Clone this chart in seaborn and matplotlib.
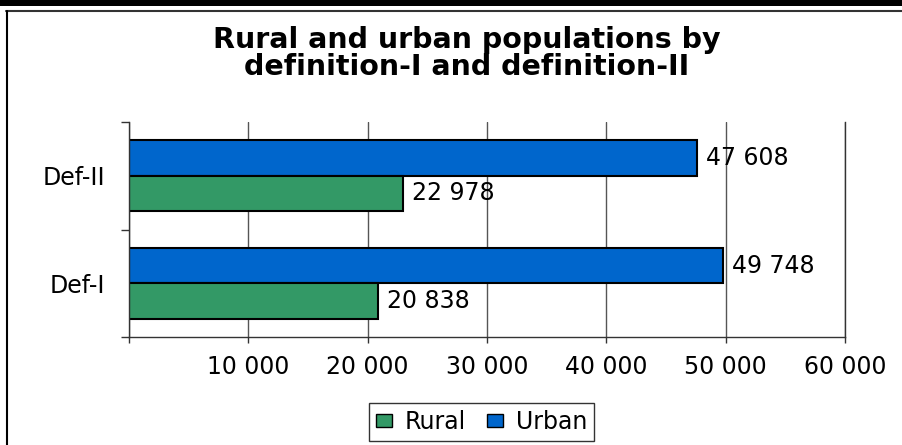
"""
Rural and urban populations by definition-I and definition-II
Horizontal grouped bar chart
"""

import pandas as pd
import matplotlib.pyplot as plt
from matplotlib.patches import Patch, Rectangle
from matplotlib.lines import Line2D
import seaborn as sns

# Data
categories = ['Def-II', 'Def-I']
rural = [22978, 20838]
urban = [47608, 49748]
x_ticks = [0, 10000, 20000, 30000, 40000, 50000, 60000]

df = pd.DataFrame({
    'Definition': categories * 2,
    'Area': ['Urban'] * len(categories) + ['Rural'] * len(categories),
    'Population': urban + rural,
})

colors = {'Rural': '#339966', 'Urban': '#0066CC'}

sns.set_style('white')
plt.rcParams['font.family'] = ['DejaVu Sans']
plt.rcParams['text.color'] = 'black'
plt.rcParams['xtick.labelcolor'] = 'black'
plt.rcParams['ytick.labelcolor'] = 'black'

fig = plt.figure(figsize=(9.02, 4.45), dpi=100)
ax = fig.add_axes([0.143, 0.2427, 0.794, 0.4831])

sns.barplot(data=df, y='Definition', x='Population', hue='Area',
            order=categories, hue_order=['Urban', 'Rural'], palette=colors,
            orient='h', width=0.66, saturation=1, edgecolor='black',
            linewidth=1.5, legend=False, ax=ax)

def fmt(v):
    return f"{int(v):,}".replace(',', ' ')

for cont in ax.containers:
    ax.bar_label(cont, labels=[fmt(v) for v in cont.datavalues],
                 padding=6.5, fontsize=17, color='black')

# axes
ax.set_xlim(0, 60000)
ax.set_ylim(1.5, -0.5)
ax.set_xticks(x_ticks)
ax.set_xticklabels([''] + [fmt(v) for v in x_ticks[1:]], fontsize=17)
ax.set_yticks([0, 1])
ax.set_yticklabels(categories, fontsize=17)
ax.set_yticks([-0.5, 0.5, 1.5], minor=True)
ax.tick_params(axis='y', which='major', length=0, pad=17)
ax.tick_params(axis='y', which='minor', left=True, length=6, width=1, color='#333333')
ax.tick_params(axis='x', which='major', bottom=True, length=4.3, width=1,
               color='#333333', pad=9)
ax.set_xlabel('')
ax.set_ylabel('')

ax.grid(axis='x', color='#555555', linewidth=1)
ax.grid(axis='y', visible=False)
ax.set_axisbelow(True)
ax.spines['top'].set_visible(False)
for s in ['left', 'bottom', 'right']:
    ax.spines[s].set_color('#333333')
    ax.spines[s].set_linewidth(1)

# title
fig.text(0.517, 0.88, 'Rural and urban populations by\ndefinition-I and definition-II',
         ha='center', va='center', fontsize=20.5, fontweight='bold',
         linespacing=0.95, color='black')

# legend
handles = [Patch(facecolor=colors['Rural'], edgecolor='black', label='Rural'),
           Patch(facecolor=colors['Urban'], edgecolor='black', label='Urban')]
leg = fig.legend(handles=handles, loc='center', bbox_to_anchor=(0.534, 0.0517),
                 ncol=2, fontsize=17, frameon=True, fancybox=False,
                 edgecolor='black', handlelength=0.65, handleheight=0.5,
                 handletextpad=0.55, columnspacing=0.9, borderpad=0.3,
                 borderaxespad=0)
leg.get_frame().set_linewidth(1)

# outer chart frame
fig.add_artist(Rectangle((0, 1 - 6 / 445), 1, 6 / 445, transform=fig.transFigure,
                         facecolor='black', edgecolor='none'))
fig.add_artist(Line2D([6 / 902, 1], [1 - 10.5 / 445, 1 - 10.5 / 445],
                      transform=fig.transFigure, color='#333333', linewidth=1.5))
fig.add_artist(Line2D([6.5 / 902, 6.5 / 902], [0, 1 - 10.5 / 445],
                      transform=fig.transFigure, color='black', linewidth=1.5))

plt.savefig('out.png', dpi=100)
plt.close()
